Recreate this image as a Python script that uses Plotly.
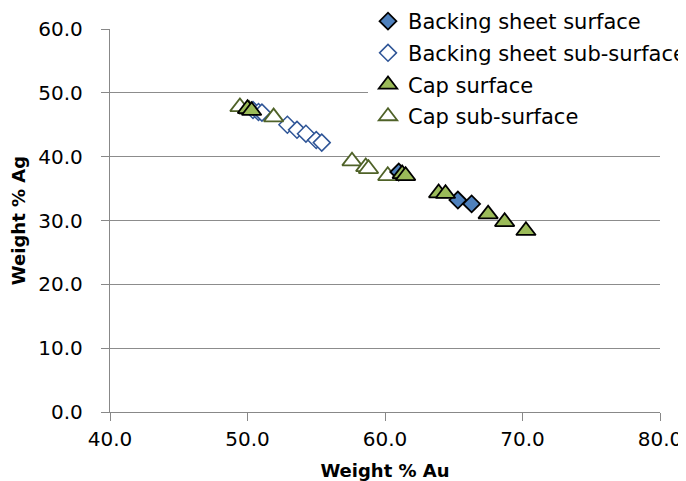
import plotly.graph_objects as go

# Backing sheet surface (filled blue diamonds)
bs_au = [61.0, 65.3, 66.3]
bs_ag = [37.6, 33.2, 32.6]

# Backing sheet sub-surface (open blue diamonds)
bss_au = [50.4, 50.8, 51.05, 52.9, 53.6, 54.25, 55.0, 55.4]
bss_ag = [47.3, 47.0, 46.9, 45.0, 44.2, 43.6, 42.6, 42.2]

# Cap surface (filled green triangles)
cs_au = [50.0, 50.3, 61.25, 61.5, 63.9, 64.4, 67.5, 68.7, 70.25]
cs_ag = [47.5, 47.2, 37.3, 37.0, 34.3, 34.2, 31.0, 29.8, 28.4]

# Cap sub-surface (open green triangles)
css_au = [49.45, 50.1, 51.9, 57.6, 58.6, 58.8, 60.2]
css_ag = [47.8, 47.4, 46.2, 39.3, 38.4, 38.1, 37.0]

FONT = "DejaVu Sans, sans-serif"

# the page body adds an 8 px offset; size the figure so the plot area lands
# where the reference has it
W, H = 678, 473
L, T = 102, 21
PW, PH = 550, 383

fig = go.Figure()
fig.add_trace(go.Scatter(x=bss_au, y=bss_ag, mode="markers", name="Backing sheet sub-surface",
                         legendrank=2, legendgroup="b",
                         marker=dict(symbol="diamond", size=13, color="white",
                                     line=dict(color="#2F5597", width=1.5))))
fig.add_trace(go.Scatter(x=css_au, y=css_ag, mode="markers", name="Cap sub-surface",
                         legendrank=4, legendgroup="d",
                         marker=dict(symbol="triangle-up", size=17, color="white",
                                     line=dict(color="#4F6228", width=1.8))))
fig.add_trace(go.Scatter(x=bs_au, y=bs_ag, mode="markers", name="Backing sheet surface",
                         legendrank=1, legendgroup="a",
                         marker=dict(symbol="diamond", size=13, color="#4F81BD",
                                     line=dict(color="black", width=1.8))))
fig.add_trace(go.Scatter(x=cs_au, y=cs_ag, mode="markers", name="Cap surface",
                         legendrank=3, legendgroup="c",
                         marker=dict(symbol="triangle-up", size=17, color="#9BBB59",
                                     line=dict(color="black", width=1.8))))

fig.update_layout(
    width=W, height=H,
    margin=dict(l=L, r=W - L - PW, t=T, b=H - T - PH, autoexpand=False),
    paper_bgcolor="white", plot_bgcolor="white",
    font=dict(family=FONT, size=20, color="black"),
    legend=dict(x=(360 - L) / PW, y=1 + 28 / PH,
                xanchor="left", yanchor="top",
                traceorder="grouped", bgcolor="white",
                font=dict(size=21, family=FONT), itemwidth=30, tracegroupgap=1.4),
    showlegend=True,
)
fig.update_xaxes(range=[40, 80], dtick=10, tickformat=".1f", showgrid=False,
                 showline=True, linecolor="#888888", linewidth=1.3,
                 ticks="outside", ticklen=8, tickcolor="#888888", zeroline=False,
                 ticklabelstandoff=1,
                 title=dict(text="<b>Weight % Au</b>", standoff=15, font=dict(size=18)))
fig.update_yaxes(range=[0, 60], dtick=10, tickformat=".1f", showgrid=True,
                 gridcolor="#8c8c8c", gridwidth=1.3,
                 showline=True, linecolor="#888888", linewidth=1.3,
                 ticks="outside", ticklen=8, tickcolor="#888888", zeroline=False,
                 ticklabelstandoff=14,
                 title=dict(text="<b>Weight % Ag</b>", standoff=9, font=dict(size=18)))

fig.write_html("out.html")
